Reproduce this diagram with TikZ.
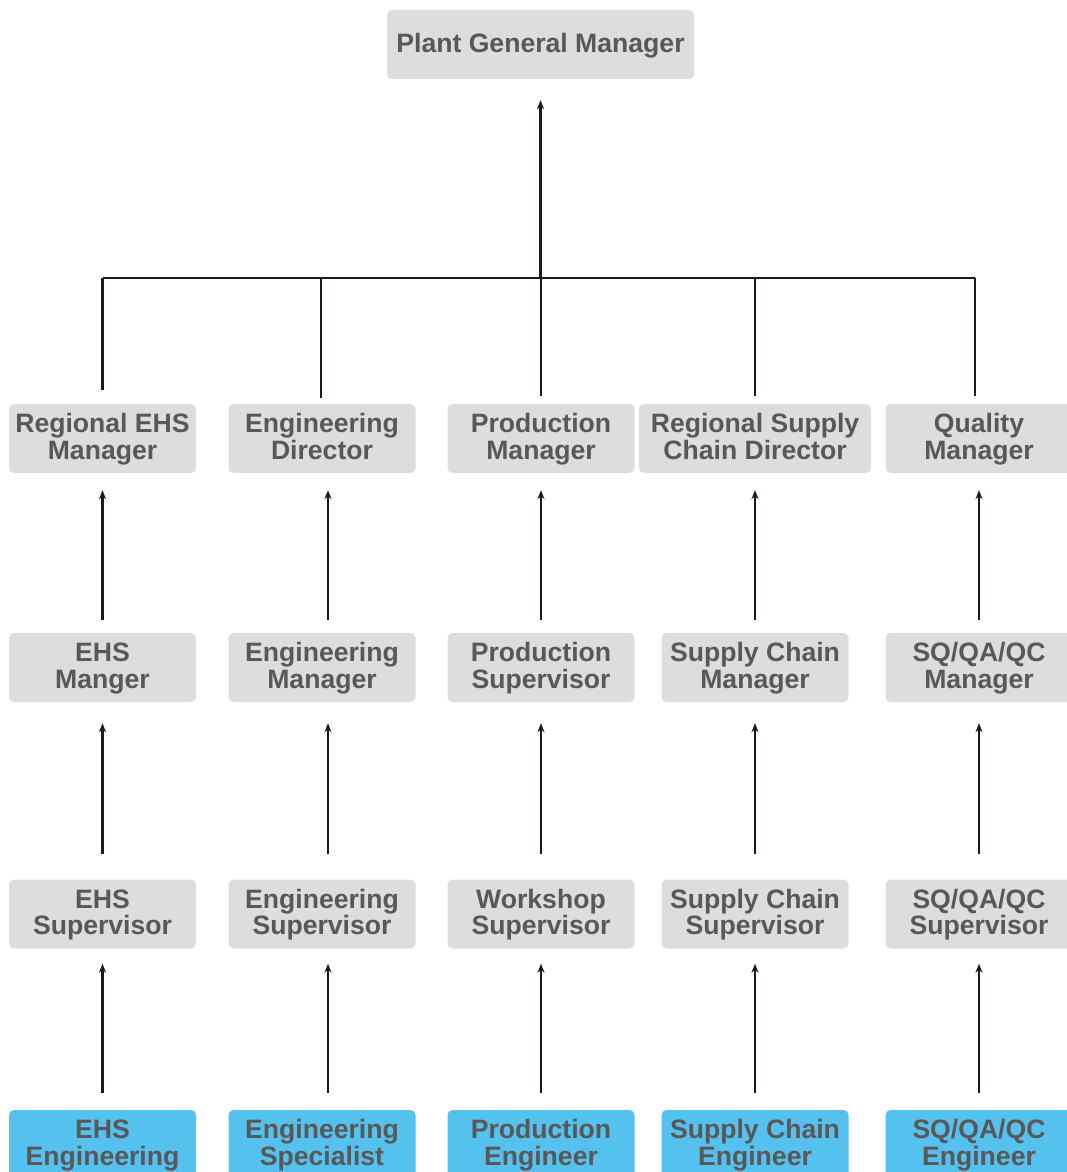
\documentclass[tikz,border=0pt]{standalone}
\usepackage{fontspec}
\setmainfont{Liberation Sans}
\usetikzlibrary{arrows.meta}
\definecolor{boxgray}{HTML}{DCDDDD}
\definecolor{boxblue}{HTML}{55C1EF}
\definecolor{txtgray}{HTML}{595757}
\definecolor{linedark}{HTML}{231815}
\begin{document}
\begin{tikzpicture}[x=1pt,y=-1pt, >={Stealth[length=9pt,width=7pt]},
        every node/.style={font=\fontsize{26.6}{26.5}\selectfont\bfseries, text=txtgray, align=center},
        post/.style={fill=boxgray, rounded corners=5pt, minimum width=187pt, minimum height=69pt, inner sep=2pt, text height=46pt, text depth=5pt},
        entry/.style={post, fill=boxblue},
        link/.style={draw=linedark, line width=2.2pt}]
        \useasboundingbox (0,0) rectangle (1066,1172);
        % top
        \node[post, minimum width=307pt, text height=20pt, text depth=4pt] (pgm) at (540.5,44.5){Plant General Manager};
        % first row
        \node[post] (rehs) at (102.5,438.5){Regional EHS\\Manager};
        \node[post] (engdir) at (322,438.5){Engineering\\Director};
        \node[post] (prodmgr) at (541,438.5){Production\\Manager};
        \node[post, minimum width=232pt] (rscd) at (755,438.5){Regional Supply\\Chain Director};
        \node[post] (qmgr) at (979,438.5){Quality\\Manager};
        % second row
        \node[post] (ehsm) at (102.5,667.5){EHS\\Manger};
        \node[post] (engm) at (322,667.5){Engineering\\Manager};
        \node[post] (prods) at (541,667.5){Production\\Supervisor};
        \node[post] (scm) at (755,667.5){Supply Chain\\Manager};
        \node[post] (sqm) at (979,667.5){SQ/QA/QC\\Manager};
        % third row
        \node[post] (ehss) at (102.5,914){EHS\\Supervisor};
        \node[post] (engs) at (322,914){Engineering\\Supervisor};
        \node[post] (wss) at (541,914){Workshop\\Supervisor};
        \node[post] (scs) at (755,914){Supply Chain\\Supervisor};
        \node[post] (sqs) at (979,914){SQ/QA/QC\\Supervisor};
        % bottom row
        \node[entry] (ehse) at (102.5,1144.5){EHS\\Engineering};
        \node[entry] (engsp) at (322,1144.5){Engineering\\Specialist};
        \node[entry] (prode) at (541,1144.5){Production\\Engineer};
        \node[entry] (sce) at (755,1144.5){Supply Chain\\Engineer};
        \node[entry] (sqe) at (979,1144.5){SQ/QA/QC\\Engineer};
        % bus to the top
        \coordinate (bus) at (540.5,278);
        \draw[link,->] (bus) -- ([yshift=-21pt]pgm.south);
        \draw[link] (rehs.north |- bus) -- ([xshift=-4pt]qmgr.north |- bus);
        \draw[link] ([yshift=14pt]rehs.north) -- (rehs.north |- bus);
        \draw[link] ([xshift=-1pt,yshift=6pt]engdir.north) -- ([xshift=-1pt]engdir.north |- bus);
        \draw[link] ([yshift=8pt]prodmgr.north) -- (prodmgr.north |- bus);
        \draw[link] ([yshift=8pt]rscd.north) -- (rscd.north |- bus);
        \draw[link] ([xshift=-4pt,yshift=8pt]qmgr.north) -- ([xshift=-4pt]qmgr.north |- bus);
        % second row up
        \draw[link,->] ([yshift=13pt]ehsm.north) -- ([yshift=-17pt]rehs.south);
        \draw[link,->] ([xshift=6pt,yshift=13pt]engm.north) -- ([xshift=6pt,yshift=-17pt]engdir.south);
        \draw[link,->] ([yshift=13pt]prods.north) -- ([yshift=-17pt]prodmgr.south);
        \draw[link,->] ([yshift=13pt]scm.north) -- ([yshift=-17pt]rscd.south);
        \draw[link,->] ([yshift=13pt]sqm.north) -- ([yshift=-17pt]qmgr.south);
        % third row up
        \draw[link,->] ([yshift=25pt]ehss.north) -- ([yshift=-21pt]ehsm.south);
        \draw[link,->] ([xshift=6pt,yshift=25pt]engs.north) -- ([xshift=6pt,yshift=-21pt]engm.south);
        \draw[link,->] ([yshift=25pt]wss.north) -- ([yshift=-21pt]prods.south);
        \draw[link,->] ([yshift=25pt]scs.north) -- ([yshift=-21pt]scm.south);
        \draw[link,->] ([yshift=25pt]sqs.north) -- ([yshift=-21pt]sqm.south);
        % bottom row up
        \draw[link,->] ([yshift=17pt]ehse.north) -- ([yshift=-15pt]ehss.south);
        \draw[link,->] ([xshift=6pt,yshift=17pt]engsp.north) -- ([xshift=6pt,yshift=-15pt]engs.south);
        \draw[link,->] ([yshift=17pt]prode.north) -- ([yshift=-15pt]wss.south);
        \draw[link,->] ([yshift=17pt]sce.north) -- ([yshift=-15pt]scs.south);
        \draw[link,->] ([yshift=17pt]sqe.north) -- ([yshift=-15pt]sqs.south);
    \end{tikzpicture}
\end{document}
